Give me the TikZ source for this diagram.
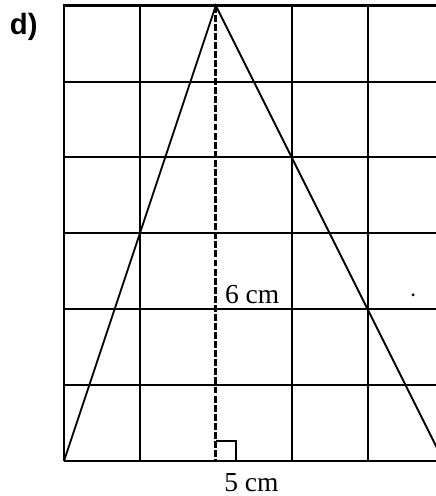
\documentclass[tikz,border=0pt]{standalone}
\usepackage{fontspec}
\setmainfont{Liberation Serif}
\newfontfamily\labelsans{Liberation Sans}
\begin{document}
\begin{tikzpicture}[x=1cm,y=1cm,
  gridline/.style={line width=0.75pt},
  borderline/.style={line width=1.0pt},
  side/.style={line width=0.7pt},
  heightline/.style={line width=1.0pt, dash pattern=on 2.6pt off 0.8pt},
  meas/.style={font=\fontsize{10.3}{12}\selectfont, inner sep=1pt},
  tag/.style={font=\labelsans\bfseries\fontsize{11}{13}\selectfont, inner sep=0pt}]
\clip (-0.843,-0.461) rectangle (4.901,6.074);
\useasboundingbox (-0.843,-0.461) rectangle (4.901,6.074);
% grid
\foreach \i in {1,3,4} \draw[gridline] (\i,0) -- (\i,6);
\foreach \j in {1,2,3,4,5} \draw[gridline] (0,\j) -- (5,\j);
\draw[borderline] (0,0) -- (0,6) -- (5,6) -- (5,0);
% triangle
\coordinate (A) at (0,0);
\coordinate (B) at (5,0);
\coordinate (C) at (2,6);
\coordinate (H) at (2,0);
\draw[line width=1.1pt] (A) -- (B);
\draw[side] (A) -- (C) -- (B);
\draw[heightline] (C) -- (H);
\draw[line width=0.75pt] (H) ++(0,0.27) coordinate (R1) -- ++(0.27,0) coordinate (R2) -- ++(0,-0.27);
% labels
\node[tag] (d) at (-0.53,5.72) {d)};
\node[meas, fill=white] (h) at (2.48,2.19) {6 cm};
\node[meas] (b) at (2.47,-0.29) {5 cm};
\fill (4.6,2.19) circle (0.6pt);
\end{tikzpicture}
\end{document}
